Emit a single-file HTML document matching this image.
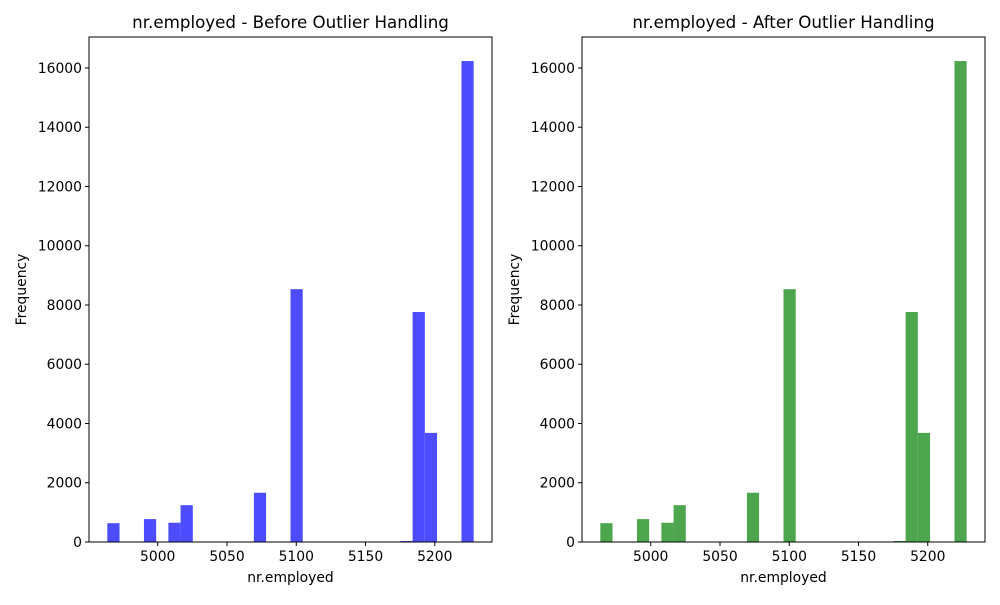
<!DOCTYPE html>
<html><head><meta charset="utf-8"><style>
body{margin:0;background:#fff;}
svg text{font-family:"DejaVu Sans","Liberation Sans",sans-serif;fill:#000;}
</style></head><body>
<svg id="chart" width="1000" height="600" xmlns="http://www.w3.org/2000/svg"></svg>
<script>
const binStart = 4963.6;
const binEnd = 5228.1;
const countsBefore = [635,0,0,773,0,650,1243,0,0,0,0,0,1663,0,0,8534,0,0,0,0,0,0,0,0,10,7763,3683,0,0,16234];
const countsAfter = [635,0,0,773,0,650,1243,0,0,0,0,0,1663,0,0,8534,0,0,0,0,0,0,0,0,10,7763,3683,0,0,16234];
const xTicks = [5000,5050,5100,5150,5200];
const yTicks = [0,2000,4000,6000,8000,10000,12000,14000,16000];
const titles = ["nr.employed - Before Outlier Handling","nr.employed - After Outlier Handling"];
const NS="http://www.w3.org/2000/svg";
const svg=document.getElementById('chart');
function mk(tag,attrs,parent){const e=document.createElementNS(NS,tag);for(const k in attrs)e.setAttribute(k,attrs[k]);(parent||svg).appendChild(e);return e;}
function panel(x0,counts,color,title,key){
  const x1=x0+403, yTop=37, yBot=542;
  const span=binEnd-binStart, m=span*0.05;
  const xmin=binStart-m, xmax=binEnd+m;
  const ymax=Math.max(...counts)*1.05;
  const sx=v=>x0+(v-xmin)/(xmax-xmin)*(x1-x0);
  const sy=v=>yBot-v/ymax*(yBot-yTop);
  const g=mk('g',{});
  
  
  const w=span/counts.length;
  counts.forEach((c,i)=>{
    if(c<=0)return;
    const h=Math.max(sy(0)-sy(c),1);
    const r=mk('rect',{x:sx(binStart+i*w),y:sy(0)-h,width:sx(binStart+(i+1)*w)-sx(binStart+i*w),height:h,fill:color},g);
    
    
  });
  const fr=mk('rect',{x:x0,y:yTop,width:x1-x0,height:yBot-yTop,fill:'none',stroke:'#000','stroke-width':1},g);
  
  
  xTicks.forEach(t=>{
    const x=sx(t);
    mk('line',{x1:x,x2:x,y1:yBot,y2:yBot+4,stroke:'#000'},g);
    const tx=mk('text',{x:x,y:yBot+19,'text-anchor':'middle','font-size':13.9},g);tx.textContent=t;
    
    
  });
  yTicks.forEach(t=>{
    const y=sy(t);
    mk('line',{x1:x0-4,x2:x0,y1:y,y2:y,stroke:'#000'},g);
    const tx=mk('text',{x:x0-7,y:y+5,'text-anchor':'end','font-size':13.9},g);tx.textContent=t;
    
    
  });
  const xl=mk('text',{x:(x0+x1)/2,y:582,'text-anchor':'middle','font-size':13.9},g);xl.textContent='nr.employed';
  
  
  const yl=mk('text',{x:0,y:0,'text-anchor':'middle','font-size':13.9,transform:`translate(${x0-63},${(yTop+yBot)/2}) rotate(-90)`},g);yl.textContent='Frequency';
  
  
  const tt=mk('text',{x:(x0+x1)/2,y:28,'text-anchor':'middle','font-size':16.7},g);tt.textContent=title;
  
  
}
panel(89,countsBefore,'#4d4dff',titles[0],'before');
panel(582,countsAfter,'rgb(77,166,77)',titles[1],'after');
</script>
</body></html>
